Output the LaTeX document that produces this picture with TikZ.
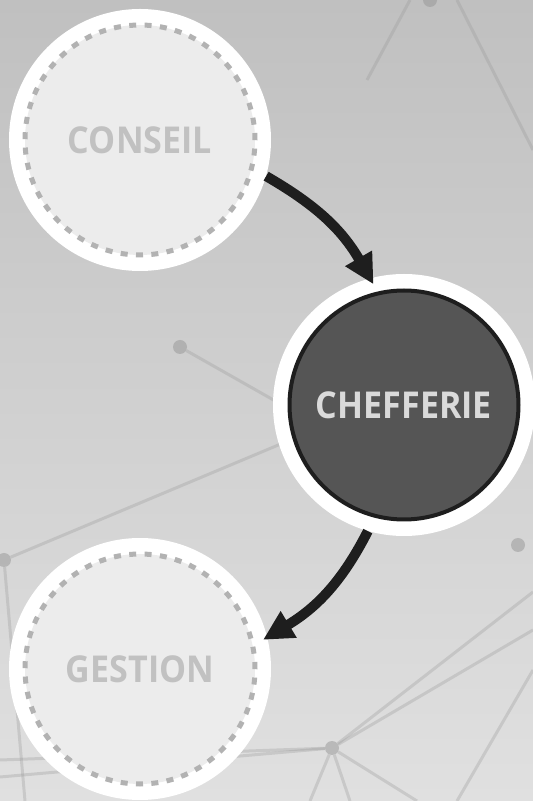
\documentclass[tikz,border=0pt]{standalone}
\usepackage{fontspec}
\setsansfont{Open Sans}[FakeStretch=0.92]
\usetikzlibrary{arrows.meta}
\usetikzlibrary{positioning}

\definecolor{bgtop}{RGB}{192,192,192}
\definecolor{bgbot}{RGB}{224,224,224}
\definecolor{netgray}{RGB}{150,150,150}
\definecolor{paleface}{RGB}{236,236,236}
\definecolor{dashgray}{RGB}{178,178,178}
\definecolor{palelabel}{RGB}{193,193,193}
\definecolor{darkface}{RGB}{85,85,85}
\definecolor{darkline}{RGB}{30,30,30}
\definecolor{lightlabel}{RGB}{218,218,218}

\tikzset{
  ring/.style={circle,fill=white,minimum size=262pt,inner sep=0pt},
  dashring/.style={circle,fill=paleface,draw=dashgray,line width=5pt,
    dash pattern=on 7pt off 8.37pt,minimum size=230pt,inner sep=0pt,
    text=palelabel,font=\sffamily\bfseries\fontsize{37}{40}\selectfont},
  darkdisc/.style={circle,fill=darkface,draw=darkline,line width=4pt,
    minimum size=229pt,inner sep=0pt,
    text=lightlabel,font=\sffamily\bfseries\fontsize{37}{40}\selectfont},
  flowarrow/.style={draw=darkline,line width=10pt,
    -{Triangle[length=30pt,width=29pt]}},
  netline/.style={netgray,line width=3pt,opacity=0.3},
  netdot/.style={circle,fill=netgray,inner sep=0pt,minimum size=14pt,opacity=0.5}
}

\begin{document}
\begin{tikzpicture}[x=1pt,y=1pt]
  % background
  \shade[top color=bgtop,bottom color=bgbot] (0,0) rectangle (533,801);
  \useasboundingbox (0,0) rectangle (533,801);

  % network in the background
  \node[netdot] (n1) at (180,454) {};
  \node[netdot] (n2) at (332,53) {};
  \node[netdot] (n3) at (518,256) {};
  \node[netdot] (n4) at (430,801) {};
  \node[netdot] (n5) at (4,241) {};
  \draw[netline] (n1) -- (300,386);
  \draw[netline] (n5) -- (400,407);
  \draw[netline] (n5) -- (25,0);
  \draw[netline] (n2) -- (533,209);
  \draw[netline] (n2) -- (533,171);
  \draw[netline] (n2) -- (0,41);
  \draw[netline] (n2) -- (0,24);
  \draw[netline] (n2) -- (310,0);
  \draw[netline] (n2) -- (350,0);
  \draw[netline] (n2) -- (417,0);
  \draw[netline] (533,131) -- (457,0);
  \draw[netline] (457,801) -- (533,651);
  \draw[netline] (410,801) -- (367,721);

  % the three circles
  \node[ring] (conseil) at (140,661) {};
  \node[dashring] (conseilin) at (conseil) {CONSEIL};

  \node[ring] (chefferie) at (404,396) {};
  \node[darkdisc] (chefferiein) at (chefferie) {CHEFFERIE};

  \node[ring] (gestion) at (140,132) {};
  \node[dashring] (gestionin) at (gestion) {GESTION};

  % arrows
  \draw[flowarrow,shorten >=-7pt] (conseil.-16) to[out=-30,in=120] (chefferie.105);
  \draw[flowarrow,shorten >=-5pt] (chefferie.254) to[out=243,in=31] (gestion.14);
\end{tikzpicture}
\end{document}
